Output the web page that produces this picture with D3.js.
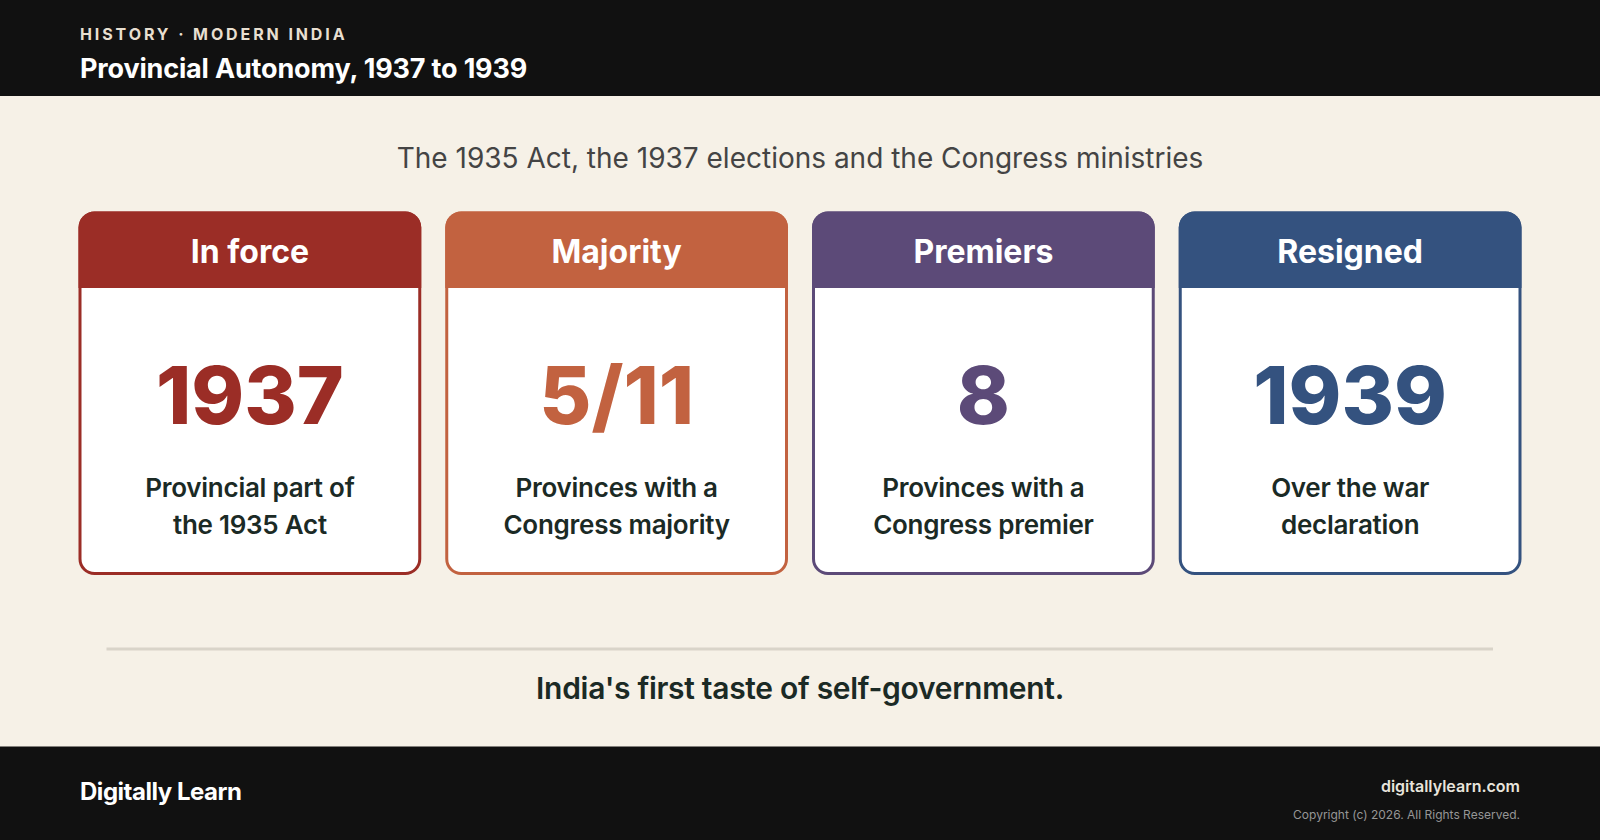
<!DOCTYPE html>
<html><head><meta charset="utf-8">
<script src="https://cdnjs.cloudflare.com/ajax/libs/d3/7.9.0/d3.min.js"></script>
<style>html,body{margin:0;padding:0;background:#F6F1E7;overflow:hidden}svg{display:block}text{font-family:Inter,sans-serif}</style>
</head><body><div id="chart"></div>
<script>
const headers = ["In force","Majority","Premiers","Resigned"];
const values = ["1937","5/11","8","1939"];
const line1 = ["Provincial part of","Provinces with a","Provinces with a","Over the war"];
const line2 = ["the 1935 Act","Congress majority","Congress premier","declaration"];
const colors = ["#9B2D26","#C26240","#5C4A78","#34527F"];
const W=1600,H=840;
const svg=d3.select("#chart").append("svg").attr("width",W).attr("height",H);
svg.append("rect").attr("width",W).attr("height",H).attr("fill","#F6F1E7");
svg.append("rect").attr("width",W).attr("height",96).attr("fill","#111111");
svg.append("rect").attr("y",746.5).attr("width",W).attr("height",93.5).attr("fill","#111111");
function t(x,y,s,size,weight,fill,anchor,ls){return svg.append("text").attr("x",x).attr("y",y).text(s).attr("font-size",size).attr("font-weight",weight).attr("fill",fill).attr("text-anchor",anchor||"start").attr("letter-spacing",ls||null);}
t(80,39.5,"HISTORY · MODERN INDIA",16,700,"#E8DFD0","start",2.9);
t(80,77.5,"Provincial Autonomy, 1937 to 1939",27,700,"#FFFFFF","start",-0.17);
t(800,168,"The 1935 Act, the 1937 elections and the Congress ministries",28,400,"#444444","middle");
const x=d3.scaleBand().domain(headers).range([78.5,1521.5]).paddingInner(24/366.75);
const bw=x.bandwidth(),top0=211.5,bot=575,hh=76.5,b=3,r=16;
const g=svg.selectAll("g.card").data(headers).enter().append("g").attr("class","card").attr("transform",d=>`translate(${x(d)},${top0})`);
g.append("rect").attr("x",b/2).attr("y",b/2).attr("width",bw-b).attr("height",bot-top0-b).attr("rx",r-b/2).attr("fill","#FFFFFF").attr("stroke",(d,i)=>colors[i]).attr("stroke-width",b);
g.append("path").attr("d",`M0,${hh}V${r}A${r},${r} 0 0 1 ${r},0H${bw-r}A${r},${r} 0 0 1 ${bw},${r}V${hh}Z`).attr("fill",(d,i)=>colors[i]);
const tx=(y,size,weight,fill,arr,ls)=>g.append("text").attr("x",bw/2).attr("y",y).attr("text-anchor","middle").attr("font-size",size).attr("font-weight",weight).attr("fill",fill).attr("letter-spacing",ls||null).text((d,i)=>arr[i]);
tx(51.5,32,700,"#FFFFFF",headers);
tx(212,80,800,(d,i)=>colors[i],values);
tx(285,26,600,"#1B2A25",line1,-0.26);
tx(322,26,600,"#1B2A25",line2,-0.26);
svg.append("rect").attr("x",106.5).attr("y",647.5).attr("width",1386.5).attr("height",3).attr("fill","#D9D4C9");
t(800,699,"India's first taste of self-government.",30,600,"#1B2A25","middle",-0.3);
t(80,800,"Digitally Learn",24,700,"#FFFFFF","start",-0.48);
t(1520,792,"digitallylearn.com",16,600,"#E8E4DC","end");
t(1520,819,"Copyright (c) 2026. All Rights Reserved.",12,400,"#969696","end");
</script></body></html>
